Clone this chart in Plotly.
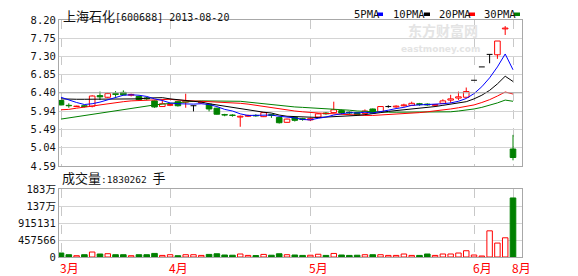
import plotly.graph_objects as go

# ---------------- data ----------------
stock_title = "上海石化[600688]"
last_date = "2013-08-20"
month_labels = ["3月", "4月", "5月", "6月", "8月"]
month_pos = [0, 14, 32, 53, 58]          # candle index where each month starts

opens = [6.21, 6.09, 6.06, 6.08, 6.07, 6.33, 6.29, 6.38, 6.41, 6.34,
         6.31, 6.27, 6.20, 6.06, 6.09, 6.18, 6.17, 6.08, 6.15, 6.12,
         6.02, 5.86, 5.85, 5.80, 5.82, 5.84, 5.81, 5.86, 5.79, 5.67,
         5.79, 5.76, 5.73, 5.80, 5.90, 5.91, 5.96, 5.92, 5.91, 5.89,
         6.00, 5.93, 6.06, 6.05, 6.08, 6.09, 6.13, 6.12, 6.09, 6.14,
         6.22, 6.27, 6.29, 6.71, 7.04, 7.35, 7.34, 7.98, 5.01]
highs = [6.22, 6.14, 6.08, 6.10, 6.34, 6.43, 6.40, 6.44, 6.46, 6.38,
         6.33, 6.30, 6.21, 6.22, 6.13, 6.19, 6.38, 6.09, 6.19, 6.13,
         6.03, 5.88, 5.87, 5.84, 5.86, 5.87, 5.92, 5.88, 5.82, 5.76,
         5.80, 5.78, 5.78, 5.90, 5.92, 6.18, 5.98, 5.94, 5.92, 5.99,
         6.01, 6.07, 6.09, 6.09, 6.13, 6.18, 6.15, 6.14, 6.12, 6.24,
         6.35, 6.43, 6.53, 6.71, 7.04, 7.35, 7.68, 8.05, 5.36]
lows = [6.09, 6.03, 6.05, 6.04, 6.04, 6.22, 6.27, 6.30, 6.34, 6.31,
        6.20, 6.22, 6.03, 6.05, 6.07, 6.06, 6.03, 5.94, 6.13, 5.94,
        5.86, 5.82, 5.81, 5.56, 5.80, 5.81, 5.80, 5.78, 5.64, 5.66,
        5.69, 5.71, 5.70, 5.78, 5.86, 5.90, 5.87, 5.87, 5.84, 5.88,
        5.89, 5.92, 6.03, 6.03, 6.06, 6.08, 6.08, 6.08, 6.08, 6.13,
        6.15, 6.22, 6.28, 6.71, 7.04, 7.13, 7.24, 7.83, 4.73]
closes = [6.10, 6.08, 6.07, 6.06, 6.32, 6.30, 6.38, 6.36, 6.35, 6.36,
          6.23, 6.25, 6.05, 6.13, 6.11, 6.08, 6.20, 6.08, 6.17, 6.00,
          5.87, 5.85, 5.84, 5.82, 5.84, 5.83, 5.91, 5.84, 5.66, 5.75,
          5.72, 5.74, 5.76, 5.88, 5.88, 5.98, 5.90, 5.90, 5.86, 5.95,
          5.90, 6.06, 6.06, 6.07, 6.10, 6.14, 6.11, 6.10, 6.11, 6.20,
          6.25, 6.30, 6.43, 6.71, 7.04, 7.35, 7.68, 8.00, 4.80]
volumes = [123000, 71000, 40000, 71000, 154000, 93000, 102000, 71000, 71000, 40000,
           71000, 71000, 111000, 49000, 71000, 40000, 71000, 71000, 49000, 80000,
           100000, 62000, 55000, 93000, 49000, 45000, 80000, 55000, 100000, 71000,
           62000, 49000, 55000, 85000, 49000, 110000, 62000, 49000, 55000, 71000,
           71000, 71000, 49000, 49000, 93000, 49000, 49000, 93000, 49000, 93000,
           93000, 123000, 194000, 62000, 31000, 811000, 432000, 595000, 1830262]
ma5 = [6.29, 6.22, 6.16, 6.11, 6.13, 6.17, 6.23, 6.28, 6.34, 6.35,
       6.34, 6.31, 6.25, 6.21, 6.15, 6.13, 6.12, 6.12, 6.13, 6.11,
       6.06, 5.99, 5.95, 5.88, 5.84, 5.84, 5.85, 5.85, 5.82, 5.80,
       5.78, 5.74, 5.73, 5.77, 5.80, 5.85, 5.88, 5.91, 5.90, 5.92,
       5.90, 5.93, 5.97, 6.01, 6.04, 6.09, 6.10, 6.10, 6.11, 6.13,
       6.15, 6.19, 6.26, 6.38, 6.55, 6.77, 7.04, 7.36, 6.97]
ma10 = [6.25, 6.24, 6.24, 6.24, 6.24, 6.24, 6.24, 6.24, 6.24, 6.24,
        6.25, 6.27, 6.27, 6.28, 6.25, 6.23, 6.22, 6.19, 6.17, 6.13,
        6.10, 6.06, 6.03, 6.00, 5.98, 5.95, 5.92, 5.90, 5.85, 5.82,
        5.81, 5.80, 5.79, 5.79, 5.80, 5.81, 5.81, 5.82, 5.84, 5.86,
        5.88, 5.91, 5.94, 5.96, 5.98, 5.99, 6.02, 6.04, 6.06, 6.09,
        6.12, 6.14, 6.18, 6.25, 6.34, 6.46, 6.62, 6.81, 6.68]
ma20 = [5.98, 5.99, 6.02, 6.04, 6.07, 6.10, 6.13, 6.16, 6.18, 6.20,
        6.21, 6.22, 6.23, 6.24, 6.24, 6.22, 6.21, 6.20, 6.19, 6.19,
        6.17, 6.16, 6.15, 6.14, 6.12, 6.09, 6.07, 6.04, 6.01, 5.98,
        5.95, 5.93, 5.91, 5.90, 5.89, 5.88, 5.87, 5.86, 5.84, 5.84,
        5.84, 5.85, 5.86, 5.88, 5.89, 5.90, 5.91, 5.93, 5.95, 5.97,
        6.00, 6.03, 6.06, 6.10, 6.16, 6.23, 6.32, 6.42, 6.37]
ma30 = [5.75, 5.78, 5.81, 5.84, 5.86, 5.89, 5.92, 5.95, 5.98, 6.01,
        6.04, 6.07, 6.10, 6.12, 6.14, 6.16, 6.18, 6.19, 6.20, 6.20,
        6.20, 6.20, 6.20, 6.19, 6.17, 6.15, 6.13, 6.11, 6.09, 6.06,
        6.05, 6.04, 6.03, 6.02, 6.01, 6.00, 5.98, 5.97, 5.95, 5.94,
        5.93, 5.92, 5.92, 5.92, 5.92, 5.92, 5.92, 5.92, 5.92, 5.92,
        5.93, 5.95, 5.97, 6.00, 6.04, 6.09, 6.15, 6.22, 6.19]
price_ticks = [4.59, 5.04, 5.49, 5.94, 6.40, 6.85, 7.30, 7.75, 8.20]
vol_tick_text = ["0", "457566", "915131", "137万", "183万"]
ma_names = ["5PMA", "10PMA", "20PMA", "30PMA"]

# ---------------- styling ----------------
RED, GREEN, BLUE, BLACK = "#ff0000", "#008000", "#0000ff", "#000000"
W, H = 578, 276
L, R, T, B = 59, 56, 20, 19
PW, PH = W - L - R, H - T - B
def px(xp): return (xp - L) / PW
def py(yp): return (H - B - yp) / PH
MONO = "DejaVu Sans Mono, Noto Sans CJK SC"
CJK = "Noto Sans CJK SC"

n = len(closes)
xs = list(range(n))
up = [i for i in xs if closes[i] > opens[i]]
dn = [i for i in xs if closes[i] < opens[i]]
dj = [i for i in xs if closes[i] == opens[i]]
half = 0.375

fig = go.Figure()

# candle bodies
fig.add_trace(go.Bar(x=up, y=[closes[i] - opens[i] for i in up], base=[opens[i] for i in up],
                     width=0.72, marker=dict(color="white", line=dict(color=RED, width=1)),
                     xaxis="x", yaxis="y"))
fig.add_trace(go.Bar(x=dn, y=[opens[i] - closes[i] for i in dn], base=[closes[i] for i in dn],
                     width=0.72, marker=dict(color=GREEN, line=dict(color=GREEN, width=1)),
                     xaxis="x", yaxis="y"))

def wicks(idx):
    wx, wy = [], []
    for i in idx:
        top, bot = max(opens[i], closes[i]), min(opens[i], closes[i])
        if highs[i] > top:
            wx += [i, i, None]; wy += [top, highs[i], None]
        if lows[i] < bot:
            wx += [i, i, None]; wy += [lows[i], bot, None]
    return wx, wy

for idx, col in ((up, RED), (dn, GREEN)):
    wx, wy = wicks(idx)
    fig.add_trace(go.Scatter(x=wx, y=wy, mode="lines", line=dict(color=col, width=1),
                             xaxis="x", yaxis="y"))
# doji candles
dx, dy = [], []
for i in dj:
    dx += [i - half, i + half, None]; dy += [opens[i], opens[i], None]
    if highs[i] != lows[i]:
        dx += [i, i, None]; dy += [lows[i], highs[i], None]
fig.add_trace(go.Scatter(x=dx, y=dy, mode="lines", line=dict(color=BLACK, width=1),
                         xaxis="x", yaxis="y"))

# moving averages
for vals, col in ((ma30, GREEN), (ma20, RED), (ma10, BLACK), (ma5, BLUE)):
    fig.add_trace(go.Scatter(x=xs, y=vals, mode="lines", line=dict(color=col, width=1),
                             xaxis="x", yaxis="y"))

# volume
vup = [i for i in xs if closes[i] >= opens[i]]
vdn = [i for i in xs if closes[i] < opens[i]]
fig.add_trace(go.Bar(x=vup, y=[volumes[i] for i in vup], width=0.7,
                     marker=dict(color="white", line=dict(color=RED, width=1)),
                     xaxis="x2", yaxis="y2"))
fig.add_trace(go.Bar(x=vdn, y=[volumes[i] for i in vdn], width=0.72,
                     marker=dict(color=GREEN, line=dict(color=GREEN, width=1)),
                     xaxis="x2", yaxis="y2"))

vtop = volumes[-1] * 68 / 59.3
xr = [-0.257, n - 1 + 9 / 7.79]
axis_common = dict(showline=True, mirror=True, linecolor="#a8a8a8", linewidth=1,
                   zeroline=False, ticks="", automargin=False)
xcommon = dict(axis_common, range=xr, tickvals=month_pos, showticklabels=False,
               showgrid=True, gridcolor="#c8c8c8", griddash="dash", gridwidth=1)

fig.update_layout(
    width=W, height=H, margin=dict(l=L, r=R, t=T, b=B),
    barmode="overlay", showlegend=False, hovermode=False,
    plot_bgcolor="white", paper_bgcolor="white",
    xaxis=dict(xcommon, anchor="y", domain=[0, 1]),
    xaxis2=dict(xcommon, anchor="y2", domain=[0, 1], matches="x"),
    yaxis=dict(axis_common, domain=[py(166), 1], range=[price_ticks[0], price_ticks[-1]],
               tickvals=price_ticks, ticktext=[f"{v:.2f}" for v in price_ticks],
               showgrid=True, gridcolor="#d4d4d4",
               tickfont=dict(family=MONO, size=10.5, color="#111")),
    yaxis2=dict(axis_common, domain=[0, py(189.3)], range=[0, vtop],
                tickvals=[vtop * k / 4 for k in range(5)], ticktext=vol_tick_text,
                showgrid=True, gridcolor="#d4d4d4",
                tickfont=dict(family=MONO, size=10.5, color="#111")),
)

# darker middle line
fig.add_shape(type="line", xref="x domain", yref="y", x0=0, x1=1,
              y0=price_ticks[4], y1=price_ticks[4], line=dict(color="#a8a8a8", width=1))

ann = []
ann.append(dict(xref="paper", yref="paper", x=px(61), y=py(15), xanchor="left", yanchor="middle",
                text=f'<span style="font-family:{CJK};font-size:13px">{stock_title[:4]}</span>'
                     f'{stock_title[4:]} {last_date}',
                font=dict(family=MONO, size=10, color="#111"), showarrow=False))
# legend
leg_x = [352, 391, 437, 482]
sq_x = [377, 424, 469, 514]
for name, lx, sx, col in zip(ma_names, leg_x, sq_x, (BLUE, BLACK, RED, GREEN)):
    ann.append(dict(xref="paper", yref="paper", x=px(lx), y=py(14), xanchor="left",
                    yanchor="middle", text=name, showarrow=False,
                    font=dict(family=MONO, size=10.5, color="#111")))
    fig.add_shape(type="rect", xref="paper", yref="paper", x0=px(sx), x1=px(sx + 6),
                  y0=py(16), y1=py(12.5), fillcolor=col, line=dict(width=0))
# volume caption
ann.append(dict(xref="paper", yref="paper", x=px(60), y=py(177.5), xanchor="left", yanchor="middle",
                text=f'<span style="font-family:{CJK};font-size:13px">成交量</span>:{volumes[-1]} '
                     f'<span style="font-family:{CJK};font-size:13px">手</span>',
                font=dict(family=MONO, size=9.5, color="#111"), showarrow=False))
# month labels
for lab, pos in zip(month_labels, month_pos):
    ann.append(dict(xref="x2", yref="paper", x=pos, y=py(267), xanchor="left", yanchor="middle",
                    xshift=-3, text=lab, showarrow=False,
                    font=dict(family=CJK, size=12, color=RED)))
# watermark
ann.append(dict(xref="paper", yref="paper", x=px(480), y=py(42), yanchor="bottom",
                text="<b>东方财富网</b>", showarrow=False,
                font=dict(family=CJK, size=14, color="#e4e4e4")))
ann.append(dict(xref="paper", yref="paper", x=px(482), y=py(42.5), yanchor="top",
                text="<b>eastmoney.com</b>", showarrow=False,
                font=dict(family="DejaVu Sans", size=9, color="#e4e4e4")))
fig.update_layout(annotations=ann)

fig.write_html("out.html", config={"displayModeBar": False})
